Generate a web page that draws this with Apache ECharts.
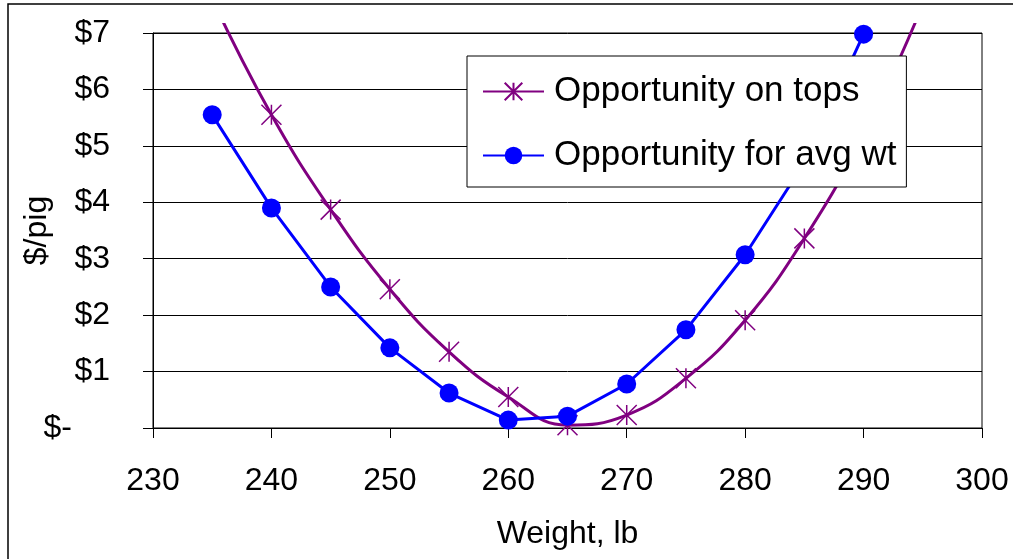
<!DOCTYPE html>
<html>
<head>
<meta charset="utf-8">
<script src="https://cdn.jsdelivr.net/npm/echarts@6/dist/echarts.min.js"></script>
<style>
  html, body { margin: 0; padding: 0; background: #fff; }
  #chart { width: 1013px; height: 559px; }
</style>
</head>
<body>
<div id="chart"></div>
<script>
// Opportunity ($/pig) by market weight (lb)
const seriesNames = ['Opportunity on tops', 'Opportunity for avg wt'];

const topsWeights = [235, 240, 245, 250, 255, 260, 265, 270, 275, 280, 285, 290, 295];
const topsValues  = [7.6, 5.55, 3.87, 2.46, 1.35, 0.55, 0.05, 0.23, 0.88, 1.91, 3.36, 5.2, 7.5];

const avgWeights = [235, 240, 245, 250, 255, 260, 265, 270, 275, 280, 285, 290];
const avgValues  = [5.55, 3.90, 2.50, 1.42, 0.62, 0.14, 0.21, 0.78, 1.74, 3.07, 4.70, 6.98];

const xMin = 230, xMax = 300, xStep = 10;
const yMin = 0, yMax = 7, yStep = 1;

const FONT = "'Liberation Sans', Arial, Helvetica, sans-serif";
const PURPLE = '#800080';
const BLUE = '#0000ff';
const STAR = 'path://M0,0L20,20M20,0L0,20M10,0L10,20';

const pairs = (xs, ys) => xs.map((x, i) => [x, ys[i]]);

const chart = echarts.init(document.getElementById('chart'), null, { renderer: 'canvas' });

chart.setOption({
  animation: false,
  backgroundColor: '#fff',
  grid: {
    left: 153, right: 31, top: 33, bottom: 131,
    containLabel: false,
    outerBoundsMode: 'none',
    show: true, borderColor: '#000', borderWidth: 1, backgroundColor: 'transparent'
  },
  legend: {
    orient: 'vertical',
    left: 467, top: 56,
    padding: [18, 10, 14, 15],
    itemWidth: 61, itemHeight: 22, itemGap: 29,
    backgroundColor: '#fff',
    borderColor: '#000', borderWidth: 1,
    textStyle: { fontFamily: FONT, fontSize: 35, color: '#000', padding: [0, 0, 0, 5] },
    data: seriesNames
  },
  xAxis: {
    type: 'value',
    min: xMin, max: xMax, interval: xStep,
    name: 'Weight, lb',
    nameLocation: 'middle',
    nameGap: 90,
    nameMoveOverlap: false,
    nameTextStyle: { fontFamily: FONT, fontSize: 32, color: '#000' },
    axisLine: { show: true, lineStyle: { color: '#000', width: 1 } },
    axisTick: { show: true, length: 10, lineStyle: { color: '#000' } },
    axisLabel: { fontFamily: FONT, fontSize: 32, color: '#000', margin: 37 },
    splitLine: { show: false }
  },
  yAxis: {
    type: 'value',
    min: yMin, max: yMax, interval: yStep,
    name: '$/pig',
    nameLocation: 'middle',
    nameGap: 100,
    nameMoveOverlap: false,
    nameTextStyle: { fontFamily: FONT, fontSize: 32, color: '#000' },
    axisLine: { show: true, lineStyle: { color: '#000', width: 1 } },
    axisTick: { show: true, length: 10, lineStyle: { color: '#000' } },
    axisLabel: {
      fontFamily: FONT, fontSize: 32, color: '#000', margin: 43,
      formatter: v => (v === 0 ? '{z|$-}' : '$' + v),
      rich: { z: { fontFamily: FONT, fontSize: 32, color: '#000', padding: [0, 38, 0, 0] } }
    },
    splitLine: { show: true, lineStyle: { color: '#000', width: 1 } }
  },
  series: [
    {
      name: seriesNames[0],
      type: 'line',
      smooth: 0.45,
      clip: false,
      data: pairs(topsWeights, topsValues),
      symbol: STAR,
      symbolSize: 20,
      showAllSymbol: true,
      lineStyle: { color: PURPLE, width: 3 },
      itemStyle: { color: PURPLE, borderColor: PURPLE, borderWidth: 1.5 },
      z: 2
    },
    {
      name: seriesNames[1],
      type: 'line',
      clip: false,
      data: pairs(avgWeights, avgValues),
      symbol: 'circle',
      symbolSize: 19,
      showAllSymbol: true,
      lineStyle: { color: BLUE, width: 3 },
      itemStyle: { color: BLUE, borderWidth: 0 },
      z: 3
    }
  ],
  graphic: [
    // band above the plot where the curves are cut off
    { type: 'rect', z: 50, silent: true,
      shape: { x: 140, y: 0, width: 860, height: 23 },
      style: { fill: '#fff' } },
    // outer chart frame
    { type: 'rect', z: 60, silent: true,
      shape: { x: 8, y: 4, width: 1100, height: 700 },
      style: { fill: 'none', stroke: '#000', lineWidth: 1.5 } }
  ]
});
</script>
</body>
</html>
